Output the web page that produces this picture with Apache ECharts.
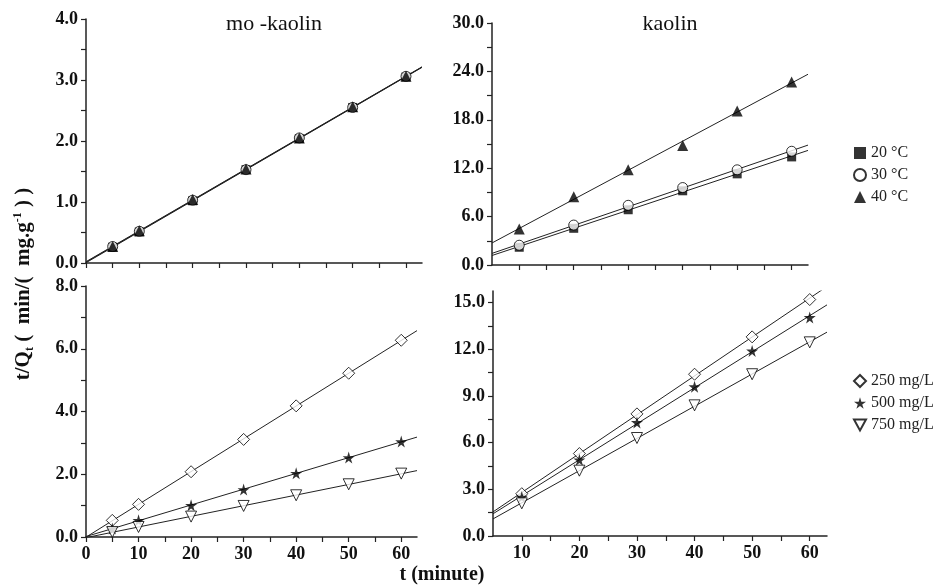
<!DOCTYPE html>
<html>
<head>
<meta charset="utf-8">
<script src="https://cdn.jsdelivr.net/npm/echarts@6/dist/echarts.min.js"></script>
<style>
  html, body { margin: 0; padding: 0; background: #fff; }
  #chart { width: 940px; height: 586px; }
</style>
</head>
<body>
<div id="chart"></div>
<script>
// time points (minute)
var tMo = [5, 10, 20, 30, 40, 50, 60];
var tKa = [10, 20, 30, 40, 50, 60];

// mo-kaolin, temperature series (t/Qt)
var mo20 = [0.26, 0.51, 1.02, 1.53, 2.04, 2.55, 3.05];
var mo30 = [0.27, 0.52, 1.03, 1.53, 2.05, 2.55, 3.06];
var mo40 = [0.27, 0.53, 1.04, 1.54, 2.05, 2.56, 3.06];

// kaolin, temperature series
var ka20 = [2.2, 4.55, 6.85, 9.2, 11.3, 13.4];
var ka30 = [2.45, 4.95, 7.4, 9.6, 11.8, 14.1];
var ka40 = [4.45, 8.45, 11.8, 14.8, 19.1, 22.7];

// mo-kaolin, concentration series
var mo250 = [0.53, 1.04, 2.08, 3.11, 4.18, 5.22, 6.27];
var mo500 = [0.27, 0.53, 1.01, 1.51, 2.03, 2.53, 3.04];
var mo750 = [0.16, 0.32, 0.65, 0.99, 1.33, 1.68, 2.02];

// kaolin, concentration series
var ka250 = [2.72, 5.3, 7.85, 10.4, 12.8, 15.2];
var ka500 = [2.5, 4.9, 7.3, 9.6, 11.9, 14.05];
var ka750 = [2.1, 4.2, 6.3, 8.4, 10.4, 12.45];

// tick and label values
var xTicksMo = [0, 5, 10, 15, 20, 25, 30, 35, 40, 45, 50, 55, 60];
var xLabelsMo = [0, 10, 20, 30, 40, 50, 60];
var xTicksKa = [10, 15, 20, 25, 30, 35, 40, 45, 50, 55, 60];
var xLabelsKa = [10, 20, 30, 40, 50, 60];
var yTicksTL = [0, 0.5, 1, 1.5, 2, 2.5, 3, 3.5, 4];
var yLabelsTL = [0, 1, 2, 3, 4];
var yTicksTR = [0, 3, 6, 9, 12, 15, 18, 21, 24, 27, 30];
var yLabelsTR = [0, 6, 12, 18, 24, 30];
var yTicksBL = [0, 1, 2, 3, 4, 5, 6, 7, 8];
var yLabelsBL = [0, 2, 4, 6, 8];
var yTicksBR = [0, 1.5, 3, 4.5, 6, 7.5, 9, 10.5, 12, 13.5, 15];
var yLabelsBR = [0, 3, 6, 9, 12, 15];

var tempNames = ['20 °C', '30 °C', '40 °C'];
var concNames = ['250 mg/L', '500 mg/L', '750 mg/L'];

var FONT = 'Liberation Serif';
var starPath = 'path://M50,0 L61,35 L98,35 L68,57 L79,91 L50,70 L21,91 L32,57 L2,35 L39,35 Z';
var downTri = 'path://M0,0 L10,0 L5,9 Z';

// least squares line over the axis range
function fitLine(xs, ys, x0, x1) {
  var n = xs.length, sx = 0, sy = 0, sxx = 0, sxy = 0;
  for (var i = 0; i < n; i++) {
    sx += xs[i]; sy += ys[i]; sxx += xs[i] * xs[i]; sxy += xs[i] * ys[i];
  }
  var b = (n * sxy - sx * sy) / (n * sxx - sx * sx);
  var a = (sy - b * sx) / n;
  return [[x0, a + b * x0], [x1, a + b * x1]];
}

var series = [];
function addGroup(idx, xs, ys, name, symbol, filled, size, x0, x1) {
  series.push({
    type: 'line', xAxisIndex: idx, yAxisIndex: idx, silent: true,
    data: fitLine(xs, ys, x0, x1), showSymbol: false, symbol: 'none',
    lineStyle: { color: '#222', width: 1 }, z: 1
  });
  series.push({
    type: 'scatter', name: name, xAxisIndex: idx, yAxisIndex: idx,
    data: xs.map(function (x, i) { return [x, ys[i]]; }),
    symbol: symbol, symbolSize: size,
    itemStyle: filled ? { color: '#000' } : { color: '#fff', borderColor: '#000', borderWidth: 1 },
    z: 3
  });
}

addGroup(0, tMo, mo20, tempNames[0], 'rect', true, 9, 0, 63);
addGroup(0, tMo, mo30, tempNames[1], 'circle', false, 10, 0, 63);
addGroup(0, tMo, mo40, tempNames[2], 'triangle', true, 11, 0, 63);
addGroup(1, tKa, ka20, tempNames[0], 'rect', true, 9, 5, 63);
addGroup(1, tKa, ka30, tempNames[1], 'circle', false, 10, 5, 63);
addGroup(1, tKa, ka40, tempNames[2], 'triangle', true, 11, 5, 63);
addGroup(2, tMo, mo250, concNames[0], 'diamond', false, 12, 0, 63);
addGroup(2, tMo, mo500, concNames[1], starPath, true, 12, 0, 63);
addGroup(2, tMo, mo750, concNames[2], downTri, false, 11, 0, 63);
addGroup(3, tKa, ka250, concNames[0], 'diamond', false, 12, 5, 63);
addGroup(3, tKa, ka500, concNames[1], starPath, true, 12, 5, 63);
addGroup(3, tKa, ka750, concNames[2], downTri, false, 11, 5, 63);

function xAxis(idx, min, ticks, labels) {
  return {
    type: 'value', gridIndex: idx, min: min, max: 63,
    splitLine: { show: false },
    axisLine: { onZero: false, lineStyle: { color: '#222', width: 1.5 } },
    axisTick: { customValues: ticks, length: 5, lineStyle: { color: '#222', width: 1.2 } },
    axisLabel: {
      show: labels.length > 0, customValues: labels, margin: 8,
      fontFamily: FONT, fontWeight: 'bold', fontSize: 18, color: '#111'
    }
  };
}
function yAxis(idx, max, ticks, labels) {
  return {
    type: 'value', gridIndex: idx, min: 0, max: max,
    splitLine: { show: false },
    axisLine: { show: true, onZero: false, lineStyle: { color: '#222', width: 1.5 } },
    axisTick: { show: true, customValues: ticks, length: 5, lineStyle: { color: '#222', width: 1.2 } },
    axisLabel: {
      customValues: labels, margin: 8,
      formatter: function (v) { return v.toFixed(1); },
      fontFamily: FONT, fontWeight: 'bold', fontSize: 18, color: '#111'
    }
  };
}

var chart = echarts.init(document.getElementById('chart'));
chart.setOption({
  backgroundColor: '#fff',
  animation: false,
  grid: [
    { left: 86, top: 19, width: 336, height: 244 },
    { left: 492, top: 23, width: 316, height: 242 },
    { left: 86, top: 286, width: 331, height: 251 },
    { left: 493, top: 291, width: 334, height: 245 }
  ],
  xAxis: [
    xAxis(0, 0, xTicksMo, []),
    xAxis(1, 5, xTicksKa, []),
    xAxis(2, 0, xTicksMo, xLabelsMo),
    xAxis(3, 5, xTicksKa, xLabelsKa)
  ],
  yAxis: [
    yAxis(0, 4, yTicksTL, yLabelsTL),
    yAxis(1, 30, yTicksTR, yLabelsTR),
    yAxis(2, 8, yTicksBL, yLabelsBL),
    yAxis(3, 15.75, yTicksBR, yLabelsBR)
  ],
  legend: [
    {
      data: tempNames, orient: 'vertical', left: 848, top: 140,
      itemWidth: 12, itemHeight: 12, itemGap: 6, selectedMode: false,
      textStyle: { fontFamily: FONT, fontSize: 16, color: '#222' }
    },
    {
      data: concNames, orient: 'vertical', left: 848, top: 368,
      itemWidth: 12, itemHeight: 12, itemGap: 6, selectedMode: false,
      textStyle: { fontFamily: FONT, fontSize: 16, color: '#222' }
    }
  ],
  graphic: [
    { type: 'text', x: 274, y: 24, style: { text: 'mo -kaolin', font: '22px "Liberation Serif"', fill: '#111', align: 'center', verticalAlign: 'middle' } },
    { type: 'text', x: 670, y: 24, style: { text: 'kaolin', font: '22px "Liberation Serif"', fill: '#111', align: 'center', verticalAlign: 'middle' } },
    { type: 'text', x: 442, y: 575, style: { text: 't (minute)', font: 'bold 20px "Liberation Serif"', fill: '#111', align: 'center', verticalAlign: 'middle' } },
    {
      type: 'text', x: 24, y: 284, rotation: Math.PI / 2,
      style: {
        text: '{a|t/Q}{s|t}{a| (  min/(  mg.g}{p|-1}{a| ) )}',
        align: 'center', verticalAlign: 'middle', fill: '#111',
        rich: {
          a: { fontFamily: FONT, fontWeight: 'bold', fontSize: 21, lineHeight: 24, verticalAlign: 'middle' },
          s: { fontFamily: FONT, fontWeight: 'bold', fontSize: 12, lineHeight: 24, verticalAlign: 'bottom', padding: [9, 0, 0, 0] },
          p: { fontFamily: FONT, fontWeight: 'bold', fontSize: 12, lineHeight: 24, verticalAlign: 'top', padding: [0, 0, 11, 0] }
        }
      }
    }
  ],
  series: series
});
</script>
</body>
</html>
